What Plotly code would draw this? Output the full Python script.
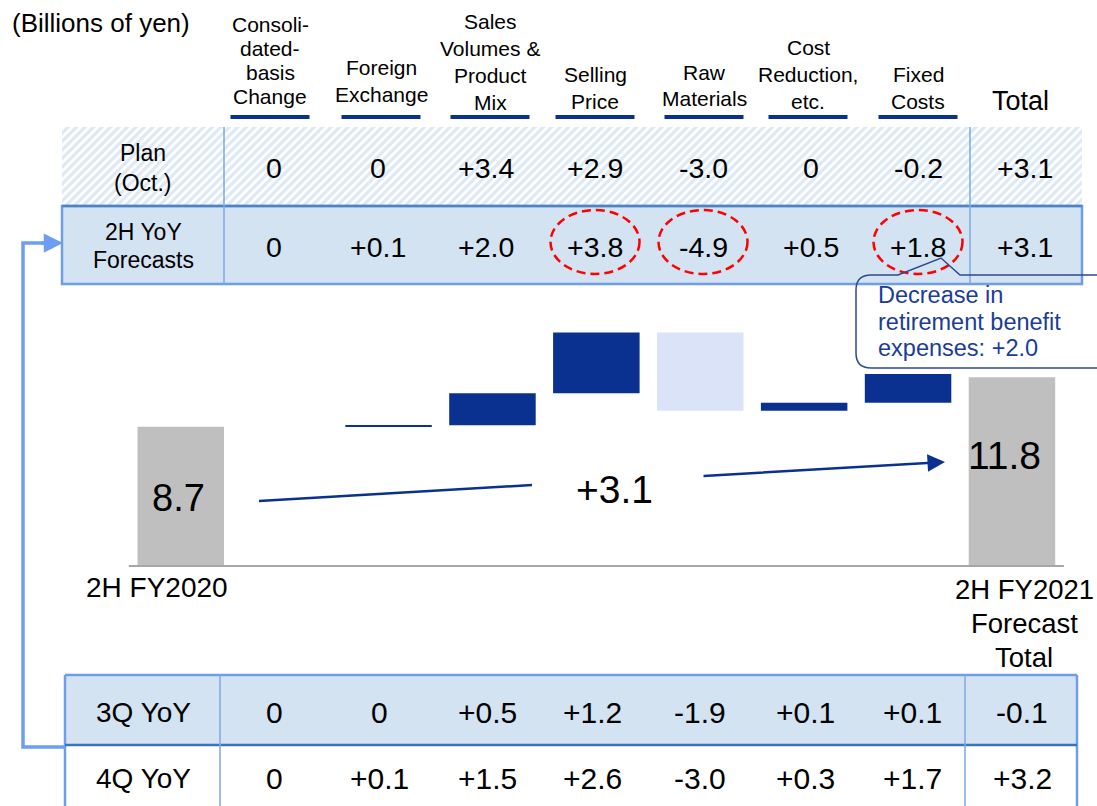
import plotly.graph_objects as go

# ------------------------- data -------------------------
unit_label = "(Billions of yen)"
factor_headers = [
    ["Consoli-", "dated-", "basis", "Change"],
    ["Foreign", "Exchange"],
    ["Sales", "Volumes &", "Product", "Mix"],
    ["Selling", "Price"],
    ["Raw", "Materials"],
    ["Cost", "Reduction,", "etc."],
    ["Fixed", "Costs"],
]
total_header = "Total"

plan_oct = [0, 0, 3.4, 2.9, -3.0, 0, -0.2]
plan_oct_total = 3.1
yoy_2h = [0, 0.1, 2.0, 3.8, -4.9, 0.5, 1.8]
yoy_2h_total = 3.1
yoy_3q = [0, 0, 0.5, 1.2, -1.9, 0.1, 0.1]
yoy_3q_total = -0.1
yoy_4q = [0, 0.1, 1.5, 2.6, -3.0, 0.3, 1.7]
yoy_4q_total = 3.2

row_label_plan = ["Plan", "(Oct.)"]
row_label_2h = ["2H YoY", "Forecasts"]
row_label_3q = "3Q YoY"
row_label_4q = "4Q YoY"

start_label = ["2H FY2020"]
start_value = 8.7
end_label = ["2H FY2021", "Forecast", "Total"]
end_value = 11.8

circled_factors = [3, 4, 6]
callout_lines = ["Decrease in", "retirement benefit", "expenses: +2.0"]

# ------------------------- layout constants -------------------------
W, H = 1097, 806
FONT = "Liberation Sans, Arial, sans-serif"
NAVY = "#0A3190"
LIGHT_BAR = "#DAE3F8"
GRAY_BAR = "#BFBFBF"
ROW_FILL = "#D3E3F2"
ROW_BORDER = "#6F9DEA"
DIVIDER = "#7FA9DE"
DARK_DIV = "#3A74BA"
BRACKET = "#6D9EF2"
CALLOUT_TXT = "#1B3C98"
CALLOUT_LINE = "#2C4A8C"

# waterfall pixel mapping
X0_PX, STEP_PX = 180.75, 103.9
BASE_PX, UNIT_PX = 566, 16.0
BAR_W = 86.5 / STEP_PX

header_x = [270, 381, 490, 595, 704, 808, 918]
header_last_y = [96, 94, 102, 101, 98, 101, 101]
header_gap = [23.7, 26.5, 26.7, 27, 26, 27, 27]
top_val_x = [274, 378, 486, 595, 703, 811, 918]
top_total_x = 1025
bot_val_x = [274, 379, 487, 592, 700, 805, 912]
bot_total_x = 1022
LABEL_X = 143


def fmt(v):
    if v == 0:
        return "0"
    return ("+" if v > 0 else "-") + f"{abs(v):.1f}"


annotations = []
shapes = []


def txt(x, y, s, size, color="black", xanchor="center"):
    annotations.append(dict(
        x=x, y=y, xref="x2", yref="y2", text=s, showarrow=False,
        xanchor=xanchor, yanchor="middle",
        font=dict(family=FONT, size=size, color=color)))


def line(x0, y0, x1, y1, color, width, dash=None):
    d = dict(type="line", x0=x0, y0=y0, x1=x1, y1=y1, xref="x2", yref="y2",
             line=dict(color=color, width=width))
    if dash:
        d["line"]["dash"] = dash
    shapes.append(d)


fig = go.Figure()

# ---- hatched "Plan (Oct.)" row background ----
fig.add_trace(go.Scatter(
    x=[62, 1082, 1082, 62, 62], y=[127, 127, 206, 206, 127],
    xaxis="x2", yaxis="y2", mode="lines", fill="toself",
    line=dict(width=0, color="rgba(0,0,0,0)"),
    fillpattern=dict(shape="/", fgcolor="#BCD3EC", bgcolor="white",
                     size=6, solidity=0.55),
    hoverinfo="skip", showlegend=False))

# ---- waterfall ----
wf_x = list(range(len(yoy_2h) + 2))
wf_y = [start_value] + yoy_2h + [end_value]
wf_measure = ["absolute"] + ["relative"] * len(yoy_2h) + ["absolute"]
fig.add_trace(go.Waterfall(
    x=wf_x, y=wf_y, measure=wf_measure, width=BAR_W,
    increasing=dict(marker=dict(color=NAVY, line=dict(width=0))),
    decreasing=dict(marker=dict(color=LIGHT_BAR, line=dict(width=0))),
    totals=dict(marker=dict(color=GRAY_BAR, line=dict(width=0))),
    connector=dict(visible=False), textinfo="none", hoverinfo="skip",
    showlegend=False))

# baseline of the waterfall
shapes.append(dict(type="line", xref="x", yref="y", x0=-0.5, x1=len(wf_x) - 0.5,
                   y0=0, y1=0, line=dict(color="#A6A6A6", width=2)))

# ---- 2H row table ----
shapes.append(dict(type="rect", xref="x2", yref="y2", x0=62, y0=206, x1=1082, y1=284,
                   fillcolor=ROW_FILL, line=dict(color=ROW_BORDER, width=2.5)))
line(62, 206, 1082, 206, "#4F84C4", 2.5)
for xv in (224, 970):
    line(xv, 127, xv, 206, DIVIDER, 1.5)
    line(xv, 206, xv, 284, DIVIDER, 1.5)

# ---- bottom table ----
shapes.append(dict(type="rect", xref="x2", yref="y2", x0=65, y0=675, x1=1077, y1=745,
                   fillcolor=ROW_FILL, line=dict(width=0)))
line(65, 675, 1077, 675, ROW_BORDER, 2.5)
line(65, 675, 65, 806, ROW_BORDER, 2.5)
line(1077, 675, 1077, 806, ROW_BORDER, 2.5)
line(65, 745, 1077, 745, DARK_DIV, 2.5)
for xv in (220, 965):
    line(xv, 675, xv, 806, DIVIDER, 1.5)

# ---- bracket arrow on the left ----
shapes.append(dict(type="path", xref="x2", yref="y2",
                   path="M 65,747 L 23,747 L 23,243 L 52,243",
                   line=dict(color=BRACKET, width=3.5)))
annotations.append(dict(x=63, y=243, ax=40, ay=243, xref="x2", yref="y2",
                        axref="x2", ayref="y2", text="", showarrow=True,
                        arrowhead=2, arrowsize=1.1, arrowwidth=3.5,
                        arrowcolor=BRACKET, standoff=0))

# ---- header underlines & header text ----
for i, lines_ in enumerate(factor_headers):
    line(header_x[i] - 39.5, 117, header_x[i] + 39.5, 117, NAVY, 4)
    n = len(lines_)
    for j, s in enumerate(lines_):
        y = header_last_y[i] - (n - 1 - j) * header_gap[i]
        txt(header_x[i], y, s, 21)
txt(1020, 101, total_header, 27)
txt(101, 23, unit_label, 26)

# ---- row labels ----
txt(LABEL_X, 153, row_label_plan[0], 23)
txt(LABEL_X, 183, row_label_plan[1], 23)
txt(LABEL_X, 232, row_label_2h[0], 23)
txt(LABEL_X, 260, row_label_2h[1], 23)
txt(LABEL_X, 712, row_label_3q, 28)
txt(LABEL_X, 778, row_label_4q, 28)

# ---- table values ----
for i in range(len(plan_oct)):
    txt(top_val_x[i], 168, fmt(plan_oct[i]), 28.5)
    txt(top_val_x[i], 247, fmt(yoy_2h[i]), 28.5)
    txt(bot_val_x[i], 712, fmt(yoy_3q[i]), 30)
    txt(bot_val_x[i], 778, fmt(yoy_4q[i]), 30)
txt(top_total_x, 168, fmt(plan_oct_total), 28.5)
txt(top_total_x, 247, fmt(yoy_2h_total), 28.5)
txt(bot_total_x, 712, fmt(yoy_3q_total), 30)
txt(bot_total_x, 778, fmt(yoy_4q_total), 30)

# ---- red dashed ellipses ----
for i in circled_factors:
    cx = top_val_x[i]
    shapes.append(dict(type="circle", xref="x2", yref="y2",
                       x0=cx - 44.5, x1=cx + 44.5, y0=210, y1=274,
                       line=dict(color="#FF0000", width=2.5, dash="9px,5px")))

# ---- callout ----
shapes.append(dict(type="path", xref="x2", yref="y2",
                   path=("M 856,290 Q 856,275 871,275 L 898,275 L 941,258 "
                         "L 960,275 L 1110,275 L 1110,368 L 871,368 "
                         "Q 856,368 856,353 Z"),
                   line=dict(color=CALLOUT_LINE, width=1.5)))
for j, s in enumerate(callout_lines):
    txt(876, 295 + j * 26.5, s, 23.5, color=CALLOUT_TXT, xanchor="left")

# ---- waterfall texts and arrow ----
txt(178, 498, f"{start_value:.1f}", 38)
txt(1004, 455, f"{end_value:.1f}", 39)
txt(614, 489, fmt(yoy_2h_total), 39)
line(259, 501, 532, 485, NAVY, 2.5)
annotations.append(dict(x=945, y=462, ax=702, ay=476, xref="x2", yref="y2",
                        axref="x2", ayref="y2", text="", showarrow=True,
                        arrowhead=2, arrowsize=1.4, arrowwidth=2.5,
                        arrowcolor=NAVY, standoff=0))

# ---- category labels ----
txt(157, 587, start_label[0], 28)
for j, s in enumerate(end_label):
    txt(1024, 589 + j * 34, s, 27.5)

fig.update_layout(
    width=W, height=H, margin=dict(l=0, r=0, t=0, b=0),
    paper_bgcolor="white", plot_bgcolor="rgba(0,0,0,0)",
    showlegend=False,
    xaxis=dict(range=[-X0_PX / STEP_PX, (W - X0_PX) / STEP_PX], visible=False,
               domain=[0, 1], fixedrange=True),
    yaxis=dict(range=[(BASE_PX - H) / UNIT_PX, BASE_PX / UNIT_PX], visible=False,
               domain=[0, 1], fixedrange=True),
    xaxis2=dict(range=[0, W], visible=False, overlaying="x", anchor="y2",
                fixedrange=True),
    yaxis2=dict(range=[H, 0], visible=False, overlaying="y", anchor="x2",
                fixedrange=True),
    shapes=shapes, annotations=annotations,
)

fig.write_html(
    "out.html",
    config={"displayModeBar": False},
    post_script="document.body.style.margin='0px';document.body.style.overflow='hidden';",
)
